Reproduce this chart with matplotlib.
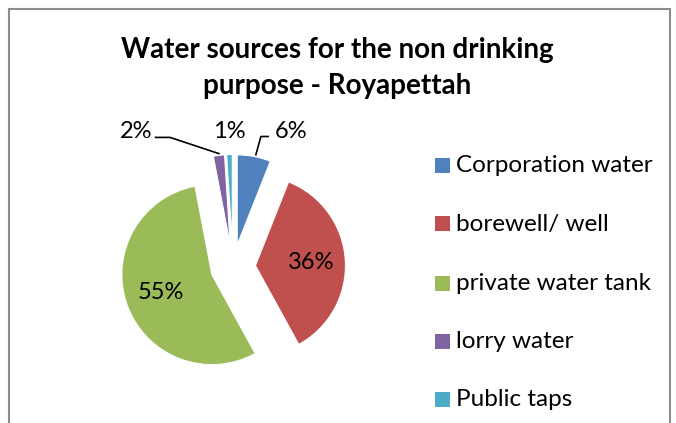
import matplotlib
matplotlib.use("Agg")
import matplotlib.pyplot as plt
import numpy as np
from matplotlib.patches import Rectangle

plt.rcParams['font.family'] = ['Lato', 'DejaVu Sans']

title_lines = ["Water sources for the non drinking", "purpose - Royapettah"]
categories = ["Corporation water", "borewell/ well", "private water tank", "lorry water", "Public taps"]
values = [6, 36, 55, 2, 1]
colors = ["#4F81BD", "#C0504D", "#9BBB59", "#8064A2", "#4BACC6"]

W, H = 676, 423
fig = plt.figure(figsize=(W / 100, H / 100), dpi=100)

# outer chart border
fig.patches.append(Rectangle((9 / W, -0.1), (670 - 9) / W, (H - 9) / H + 0.1,
                             transform=fig.transFigure, fill=False,
                             edgecolor="#8C8C8C", linewidth=1.5))

cx, cy, R = 233, 267, 90
a = 1.6
ax = fig.add_axes([(cx - a * R) / W, (H - cy - a * R) / H, 2 * a * R / W, 2 * a * R / H])

explode = [0.25] * len(values)
wedges, texts = ax.pie(values, colors=colors, startangle=90, counterclock=False,
                       explode=explode, radius=1,
                       wedgeprops=dict(edgecolor="white", linewidth=0.8))
ax.set_xlim(-a, a)
ax.set_ylim(-a, a)
ax.set_aspect("equal")
ax.axis("off")

total = sum(values)
fs_lab = 17

def wedge_point(w, r=1.0):
    ang = np.deg2rad((w.theta1 + w.theta2) / 2)
    return np.array(w.center) + r * np.array([np.cos(ang), np.sin(ang)])

# inside labels for large slices
for i in (1, 2):
    p = wedge_point(wedges[i], 0.62 if i == 1 else 0.6)
    ax.text(p[0], p[1], f"{values[i] / total * 100:.0f}%", ha="center", va="center",
            fontsize=fs_lab, color="black")

# outside labels for small slices
label_y = 1.51
outside = {0: 0.64, 3: -1.08, 4: -0.04}
for i, lx in outside.items():
    ax.text(lx, label_y, f"{values[i] / total * 100:.0f}%", ha="center", va="center",
            fontsize=fs_lab, color="black", clip_on=False)

# leader lines
p0 = wedge_point(wedges[0], 1.0)
ax.plot([0.39, 0.31, p0[0] + 0.02], [1.45, 1.45, p0[1] + 0.02], color="black", lw=1.2, clip_on=False)
p3 = wedge_point(wedges[3], 1.0)
ax.plot([-0.86, -0.70, p3[0]], [1.44, 1.44, p3[1] + 0.02], color="black", lw=1.2, clip_on=False)

# title
fig.text(337 / W, 1 - 50 / H, title_lines[0], ha="center", va="center",
         fontsize=20, fontweight="bold")
fig.text(337 / W, 1 - 86 / H, title_lines[1], ha="center", va="center",
         fontsize=20, fontweight="bold")

# legend
leg_y = [166, 224, 283, 341, 399]
for lab, col, y in zip(categories, colors, leg_y):
    fig.patches.append(Rectangle((435 / W, 1 - (y + 7.5) / H), 15 / W, 15 / H,
                                 transform=fig.transFigure, facecolor=col, edgecolor="none"))
    fig.text(456 / W, 1 - y / H, lab, ha="left", va="center", fontsize=17.5)

fig.savefig("out.png", dpi=100, facecolor="white")
